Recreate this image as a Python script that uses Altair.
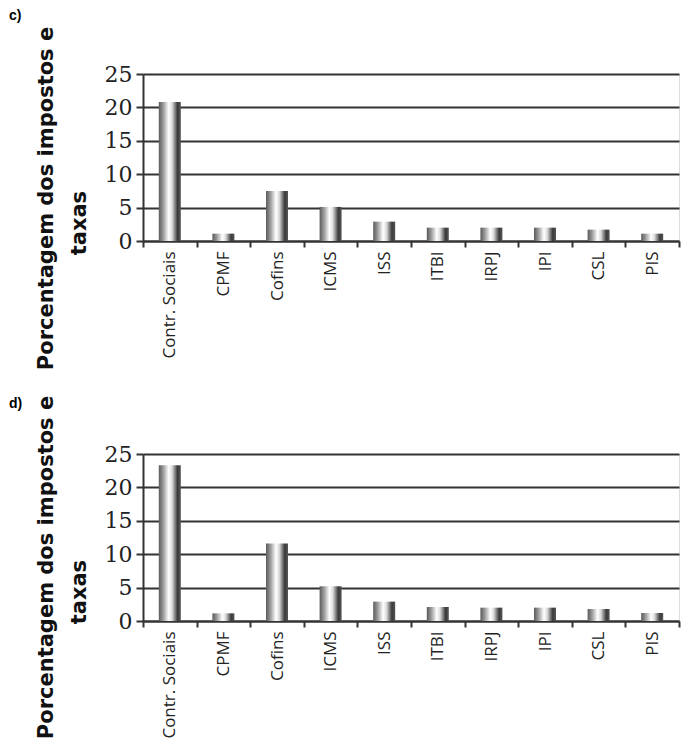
import altair as alt
import pandas as pd

categories = ["Contr. Sociais", "CPMF", "Cofins", "ICMS", "ISS", "ITBI", "IRPJ", "IPI", "CSL", "PIS"]
values_c = [20.8, 1.1, 7.5, 5.1, 2.9, 2.0, 2.0, 2.0, 1.7, 1.1]
values_d = [23.3, 1.15, 11.6, 5.2, 2.9, 2.1, 2.0, 2.0, 1.8, 1.2]
y_ticks = [0, 5, 10, 15, 20, 25]
y_title = ["Porcentagem dos impostos e", "taxas\u2800\u2800\u2800"]

gradient = alt.Gradient(
    gradient="linear",
    x1=0, x2=1, y1=0, y2=0,
    stops=[
        alt.GradientStop(offset=0.0, color="#5a5a5a"),
        alt.GradientStop(offset=0.2, color="#9a9a9a"),
        alt.GradientStop(offset=0.45, color="#ffffff"),
        alt.GradientStop(offset=0.6, color="#dddddd"),
        alt.GradientStop(offset=0.85, color="#3a3a3a"),
        alt.GradientStop(offset=1.0, color="#555555"),
    ],
)


def panel(vals, label, title_y, t_offset, t_dy):
    df = pd.DataFrame({"cat": categories, "val": vals})
    return alt.Chart(
        df,
        title=alt.TitleParams(
            label, anchor="start", frame="group", dx=-134, dy=t_dy, offset=t_offset,
            font="Liberation Sans", fontSize=14, fontWeight="bold", color="#000000",
        ),
    ).mark_bar(size=22, color=gradient).encode(
        x=alt.X(
            "cat:N", sort=categories,
            scale=alt.Scale(paddingInner=0, paddingOuter=0),
            axis=alt.Axis(
                title=None, labelAngle=-90, tickBand="extent", ticks=True, tickSize=6,
                tickColor="#333333", tickWidth=2, domainColor="#333333", domainWidth=2,
                labelFont="Open Sans", labelFontSize=17, labelPadding=4, labelColor="#222222",
                grid=False,
            ),
        ),
        y=alt.Y(
            "val:Q",
            scale=alt.Scale(domain=[0, 25]),
            axis=alt.Axis(
                values=y_ticks, title=y_title, titleX=-87, titleY=title_y,
                titleAngle=270, titleAlign="center", titleBaseline="bottom",
                titleFont="DejaVu Sans", titleFontSize=21, titleFontWeight="bold",
                titleLineHeight=33, titleColor="#111111",
                grid=True, gridColor="#333333", gridWidth=2,
                tickSize=7, tickColor="#333333", tickWidth=2,
                domainColor="#333333", domainWidth=2,
                labelFont="DejaVu Serif", labelFontSize=22, labelPadding=4,
                labelColor="#222222",
            ),
        ),
    ).properties(width=536, height=167)


chart_c = panel(values_c, "c)", 124, 3, 0)
chart_d = panel(values_d, "d)", 113, 0, 16)

chart = alt.vconcat(chart_c, chart_d, spacing=23).properties(
    padding={"left": 0, "top": 0, "right": 0, "bottom": 0}
).configure_view(strokeWidth=0).configure(background="white")

chart.save("out.html", embed_options={"renderer": "svg", "actions": False})
